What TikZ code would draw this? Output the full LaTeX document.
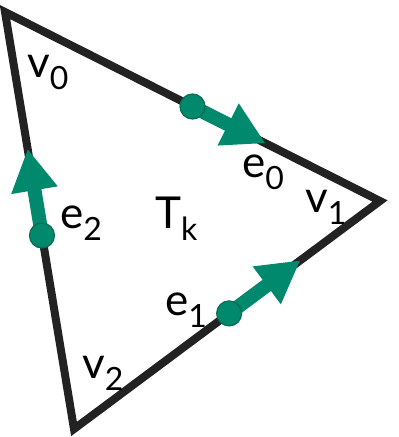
\documentclass[tikz,border=0pt]{standalone}
\usepackage{fontspec}
\setmainfont{Lato}
\usetikzlibrary{arrows.meta,calc}
\definecolor{Edge}{HTML}{222222}
\definecolor{Teal}{HTML}{00896C}
\definecolor{TealDark}{HTML}{0B6B54}
\newcommand{\sublbl}[2]{#1\raisebox{-12pt}{\fontsize{32}{32}\selectfont #2}}
\tikzset{
  edgeline/.style={draw=Edge,line width=8pt,line join=miter},
  dotnode/.style={circle,fill=Teal,draw=TealDark,line width=1.2pt,minimum size=25pt,inner sep=0pt},
  flow/.style={-{Triangle[length=42pt,width=44pt]},draw=Teal,line width=14pt},
  lbl/.style={font=\fontsize{44}{44}\selectfont,inner sep=0pt,anchor=base west}
}

\begin{document}
\begin{tikzpicture}[x=1pt,y=-1pt]
  \useasboundingbox (0,0) rectangle (399,437);
  % vertices
  \coordinate (v0) at (5,12);
  \coordinate (v1) at (380,201);
  \coordinate (v2) at (74,429);
  \draw[edgeline] (v0) -- (v1) -- (v2) -- cycle;

  % edge arrows
  \coordinate (d0) at ($(v0)!0.5!(v1)$);
  \coordinate (t0) at ($(v0)!0.695!(v1)$);
  \coordinate (d1) at ($(v2)!0.507!(v1)$);
  \coordinate (t1) at ($(v2)!0.74!(v1)$);
  \coordinate (d2) at ($(v2)!0.464!(v0)$);
  \coordinate (t2) at ($(v2)!0.672!(v0)$);
  \draw[flow] (d0) -- (t0);
  \draw[flow] (d1) -- (t1);
  \draw[flow] (d2) -- (t2);
  \node[dotnode] (dot0) at (d0) {};
  \node[dotnode] (dot1) at (d1) {};
  \node[dotnode] (dot2) at (d2) {};

  % labels
  \node[lbl] (lv0) at (27,77) {\sublbl{v}{0}};
  \node[lbl] (lv1) at (305,212) {\sublbl{v}{1}};
  \node[lbl] (lv2) at (82,378) {\sublbl{v}{2}};
  \node[lbl] (le0) at (242,177) {\sublbl{e}{0}};
  \node[lbl] (le1) at (165,315) {\sublbl{e}{1}};
  \node[lbl] (le2) at (60,228) {\sublbl{e}{2}};
  \node[lbl] (tk) at (155,228) {\sublbl{T}{k}};
\end{tikzpicture}
\end{document}
